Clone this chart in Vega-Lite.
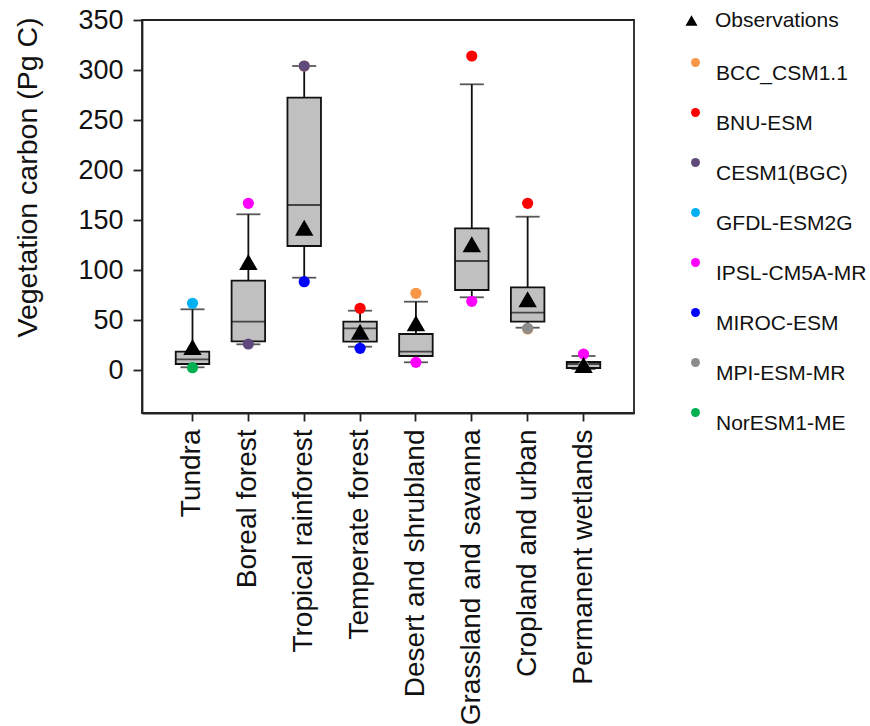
{
  "$schema": "https://vega.github.io/schema/vega-lite/v6.json",
  "width": 492,
  "height": 393,
  "autosize": {"type": "none"},
  "padding": {"left": 142, "top": 20, "right": 236, "bottom": 313},
  "background": "white",
  "config": {
    "font": "Liberation Sans",
    "view": {"stroke": "#222222", "strokeWidth": 1.8},
    "axis": {"grid": false, "domainColor": "#222222", "domainWidth": 1.8, "tickColor": "#222222", "tickWidth": 1.8, "labelColor": "#111111", "titleColor": "#111111", "labelFont": "Liberation Sans", "titleFont": "Liberation Sans", "titleFontWeight": "normal"},
    "legend": {"labelFont": "Liberation Sans", "labelColor": "#111111", "labelFontSize": 21, "padding": 0, "labelLimit": 0}
  },
  "datasets": {
    "stats": [
      {"biome": "Tundra", "lo": 2.7, "q1": 6, "med": 10.7, "q3": 18.3, "hi": 60.7},
      {"biome": "Boreal forest", "lo": 25.7, "q1": 28.7, "med": 48.3, "q3": 89.3, "hi": 155.7},
      {"biome": "Tropical rainforest", "lo": 92.3, "q1": 124, "med": 165, "q3": 272.3, "hi": 304},
      {"biome": "Temperate forest", "lo": 23.3, "q1": 28.3, "med": 41.7, "q3": 48.3, "hi": 59.3},
      {"biome": "Desert and shrubland", "lo": 7.7, "q1": 14, "med": 18.3, "q3": 36, "hi": 68.3},
      {"biome": "Grassland and savanna", "lo": 72.7, "q1": 80, "med": 109, "q3": 141.7, "hi": 285.7},
      {"biome": "Cropland and urban", "lo": 42.3, "q1": 48.3, "med": 57.3, "q3": 82.7, "hi": 153.3},
      {"biome": "Permanent wetlands", "lo": 1, "q1": 2, "med": 6, "q3": 8, "hi": 14}
    ],
    "obs": [
      {"biome": "Tundra", "value": 23, "type": "Observations"},
      {"biome": "Boreal forest", "value": 108, "type": "Observations"},
      {"biome": "Tropical rainforest", "value": 142.3, "type": "Observations"},
      {"biome": "Temperate forest", "value": 38.3, "type": "Observations"},
      {"biome": "Desert and shrubland", "value": 46.7, "type": "Observations"},
      {"biome": "Grassland and savanna", "value": 125.7, "type": "Observations"},
      {"biome": "Cropland and urban", "value": 70.7, "type": "Observations"},
      {"biome": "Permanent wetlands", "value": 5, "type": "Observations"}
    ],
    "models": [
      {"biome": "Tropical rainforest", "value": 304, "model": "BCC_CSM1.1"},
      {"biome": "Desert and shrubland", "value": 76.7, "model": "BCC_CSM1.1"},
      {"biome": "Cropland and urban", "value": 41, "model": "BCC_CSM1.1"},
      {"biome": "Temperate forest", "value": 61.7, "model": "BNU-ESM"},
      {"biome": "Grassland and savanna", "value": 314, "model": "BNU-ESM"},
      {"biome": "Cropland and urban", "value": 166.7, "model": "BNU-ESM"},
      {"biome": "Boreal forest", "value": 26, "model": "CESM1(BGC)"},
      {"biome": "Tropical rainforest", "value": 304, "model": "CESM1(BGC)"},
      {"biome": "Tundra", "value": 66.7, "model": "GFDL-ESM2G"},
      {"biome": "Boreal forest", "value": 166.7, "model": "IPSL-CM5A-MR"},
      {"biome": "Desert and shrubland", "value": 7.7, "model": "IPSL-CM5A-MR"},
      {"biome": "Grassland and savanna", "value": 68.7, "model": "IPSL-CM5A-MR"},
      {"biome": "Permanent wetlands", "value": 16, "model": "IPSL-CM5A-MR"},
      {"biome": "Tropical rainforest", "value": 88.3, "model": "MIROC-ESM"},
      {"biome": "Temperate forest", "value": 21.7, "model": "MIROC-ESM"},
      {"biome": "Cropland and urban", "value": 41.7, "model": "MPI-ESM-MR"},
      {"biome": "Permanent wetlands", "value": 4, "model": "MPI-ESM-MR"},
      {"biome": "Tundra", "value": 2.3, "model": "NorESM1-ME"}
    ]
  },
  "encoding": {
    "x": {
      "field": "biome", "type": "nominal",
      "sort": ["Tundra", "Boreal forest", "Tropical rainforest", "Temperate forest", "Desert and shrubland", "Grassland and savanna", "Cropland and urban", "Permanent wetlands"],
      "scale": {"type": "band", "paddingInner": 0.4, "paddingOuter": 0.604},
      "axis": {"title": null, "labelAngle": -90, "labelFontSize": 28, "tickSize": 8, "labelPadding": 8, "labelLimit": 0}
    }
  },
  "layer": [
    {
      "data": {"name": "stats"},
      "mark": {"type": "rule", "color": "#111111", "strokeWidth": 1.8},
      "encoding": {
        "y": {"field": "lo", "type": "quantitative", "scale": {"domain": [-43, 350], "nice": false, "zero": false},
          "axis": {"values": [0, 50, 100, 150, 200, 250, 300, 350], "labelFontSize": 27, "tickSize": 9, "labelPadding": 10,
            "title": "Vegetation carbon (Pg C)", "titleFontSize": 28.5, "titleX": -115, "titleY": 157, "titleAlign": "center", "titleBaseline": "middle", "titleAngle": -90}},
        "y2": {"field": "hi"}
      }
    },
    {
      "data": {"name": "stats"},
      "mark": {"type": "bar", "fill": "#c0c0c0", "stroke": "#111111", "strokeWidth": 1.8},
      "encoding": {
        "y": {"field": "q1", "type": "quantitative"},
        "y2": {"field": "q3"}
      }
    },
    {
      "data": {"name": "stats"},
      "mark": {"type": "tick", "color": "#111111", "thickness": 1.8, "size": 34},
      "encoding": {"y": {"field": "med", "type": "quantitative"}}
    },
    {
      "data": {"name": "stats"},
      "mark": {"type": "tick", "color": "#111111", "thickness": 1.8, "size": 24},
      "encoding": {"y": {"field": "hi", "type": "quantitative"}}
    },
    {
      "data": {"name": "stats"},
      "mark": {"type": "tick", "color": "#111111", "thickness": 1.8, "size": 24},
      "encoding": {"y": {"field": "lo", "type": "quantitative"}}
    },
    {
      "data": {"name": "models"},
      "mark": {"type": "point", "shape": "circle", "filled": true, "opacity": 1, "size": 125},
      "encoding": {
        "y": {"field": "value", "type": "quantitative"},
        "color": {"field": "model", "type": "nominal",
          "scale": {"domain": ["BCC_CSM1.1", "BNU-ESM", "CESM1(BGC)", "GFDL-ESM2G", "IPSL-CM5A-MR", "MIROC-ESM", "MPI-ESM-MR", "NorESM1-ME"],
            "range": ["#f79646", "#ff0000", "#604a7b", "#00b0f0", "#ff00ff", "#0000ff", "#8c8c8c", "#00b050"]},
          "legend": {"title": null, "orient": "none", "legendX": 543, "legendY": 32, "symbolType": "circle", "symbolSize": 80, "labelOffset": 10, "rowPadding": 18, "labelBaseline": "top", "symbolOpacity": 1}
        }
      }
    },
    {
      "data": {"name": "obs"},
      "mark": {"type": "point", "filled": true, "color": "#000000", "opacity": 1, "size": 340},
      "encoding": {
        "y": {"field": "value", "type": "quantitative"},
        "shape": {"field": "type", "type": "nominal", "scale": {"range": ["triangle-up"]},
          "legend": {"title": null, "orient": "none", "legendX": 539, "legendY": -10, "symbolSize": 144, "labelOffset": 13, "symbolFillColor": "#000000", "symbolStrokeColor": "#000000", "symbolOpacity": 1}
        }
      }
    }
  ]
}
